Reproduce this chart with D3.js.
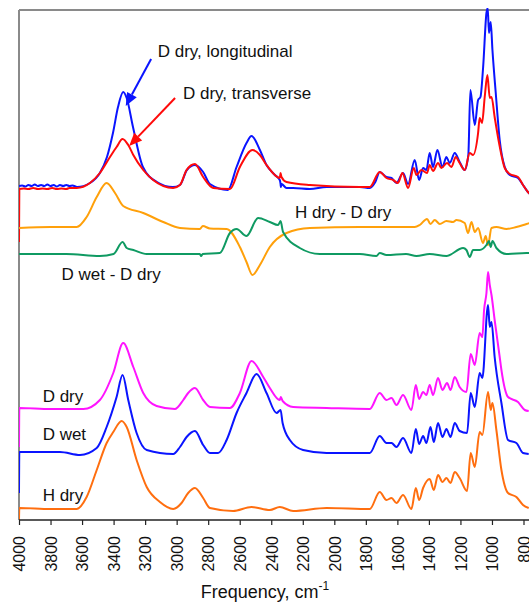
<!DOCTYPE html>
<html>
<head>
<meta charset="utf-8">
<script src="https://cdn.jsdelivr.net/npm/d3@7"></script>
<style>
  html, body { margin: 0; padding: 0; background: #fff; }
  svg { display: block; font-family: "Liberation Sans", Arial, Helvetica, sans-serif; }
</style>
</head>
<body>
<svg id="chart" width="529" height="604"></svg>
<script>
// IR spectra: [frequency (cm-1), absorbance incl. vertical offset]
const dDryLongitudinal = [
  [4000,3.34],[3980,3.345],[3960,3.335],[3940,3.35],[3920,3.34],[3900,3.355],[3880,3.34],[3860,3.35],[3840,3.34],
  [3820,3.355],[3800,3.34],[3780,3.35],[3760,3.335],[3740,3.35],[3720,3.34],[3700,3.35],[3680,3.34],[3660,3.345],
  [3632,3.33],[3550,3.37],[3487,3.47],[3442,3.63],[3404,3.87],[3372,4.13],
  [3339,4.28],[3317,4.22],[3277,3.93],[3214,3.53],[3125,3.38],[3024,3.33],[2979,3.35],[2935,3.50],[2884,3.55],
  [2832,3.48],[2789,3.36],[2675,3.30],[2620,3.53],[2557,3.77],[2525,3.84],[2472,3.70],[2430,3.55],[2377,3.45],
  [2346,3.40],[2341,3.36],[2339,3.33],[2335,3.36],[2303,3.32],[2261,3.32],[2155,3.31],[2049,3.33],[1838,3.33],
  [1775,3.32],[1740,3.38],[1712,3.48],[1669,3.43],[1637,3.42],[1606,3.37],[1564,3.47],[1532,3.36],[1490,3.60],
  [1462,3.40],[1437,3.52],[1416,3.50],[1395,3.67],[1374,3.53],[1346,3.70],[1314,3.53],[1289,3.63],[1268,3.57],
  [1236,3.67],[1205,3.58],[1173,3.50],[1150,3.65],[1137,4.30],[1109,3.95],[1088,4.20],[1073,4.23],[1056,4.53],
  [1035,5.07],[1027,5.12],[1019,4.87],[1008,4.98],[997,4.70],[976,4.27],[951,3.80],[919,3.53],[887,3.45],
  [835,3.42],[803,3.35],[772,3.28],[760,3.26]
];
const dDryTransverse = [
  [4000,2.78],[3998,3.31],[3970,3.315],[3940,3.31],[3910,3.32],[3880,3.31],[3850,3.315],[3820,3.31],[3790,3.32],
  [3760,3.31],[3730,3.315],[3700,3.31],[3680,3.32],[3634,3.32],[3550,3.37],[3487,3.47],[3423,3.63],[3381,3.73],[3343,3.81],[3307,3.75],
  [3275,3.65],[3212,3.50],[3149,3.40],[3022,3.32],[2979,3.35],[2937,3.50],[2884,3.56],[2832,3.43],[2768,3.32],
  [2662,3.31],[2599,3.53],[2519,3.70],[2472,3.65],[2430,3.55],[2377,3.45],[2346,3.42],[2341,3.47],[2335,3.43],
  [2303,3.38],[2155,3.35],[1838,3.33],[1775,3.33],[1712,3.48],[1669,3.42],[1627,3.40],[1596,3.37],[1568,3.47],
  [1532,3.32],[1496,3.52],[1479,3.45],[1448,3.50],[1412,3.47],[1395,3.55],[1374,3.49],[1342,3.57],[1321,3.52],
  [1285,3.57],[1257,3.53],[1230,3.63],[1205,3.57],[1173,3.50],[1141,3.67],[1120,3.65],[1088,3.87],[1078,4.02],
  [1063,3.97],[1046,4.23],[1029,4.45],[1014,4.22],[1003,4.23],[983,4.03],[955,3.77],[919,3.52],[887,3.46],
  [835,3.43],[803,3.35],[772,3.28],[760,3.26]
];
const hDryMinusDDry = [
  [4000,2.92],[3800,2.93],[3634,2.93],[3571,3.03],[3507,3.23],[3444,3.37],[3391,3.27],[3339,3.14],[3212,3.07],
  [3085,2.98],[2979,2.92],[2853,2.91],[2834,2.94],[2789,2.915],[2683,2.91],[2599,2.73],[2557,2.58],[2519,2.45],
  [2472,2.55],[2409,2.73],[2303,2.87],[2155,2.92],[1838,2.93],[1627,2.93],[1490,2.93],[1458,2.95],[1412,3.01],
  [1390,2.96],[1363,3.00],[1331,2.96],[1289,2.99],[1247,2.98],[1225,3.00],[1173,2.97],[1152,2.87],[1130,2.98],
  [1109,2.88],[1088,2.92],[1057,2.77],[1040,2.84],[1025,2.75],[1003,2.92],[972,2.93],[908,2.91],[845,2.93],
  [781,2.96],[760,2.97]
];
const dWetMinusDDry = [
  [4000,2.66],[3700,2.66],[3487,2.64],[3400,2.66],[3343,2.78],[3317,2.72],[3275,2.70],[3190,2.66],[2853,2.66],
  [2845,2.64],[2835,2.66],[2726,2.67],[2662,2.87],[2620,2.91],[2557,2.84],[2483,3.02],[2409,2.98],[2356,2.95],
  [2341,2.99],[2325,2.88],[2219,2.72],[2092,2.66],[1838,2.66],[1733,2.64],[1712,2.67],[1669,2.65],[1545,2.66],
  [1479,2.64],[1395,2.66],[1289,2.64],[1183,2.72],[1162,2.70],[1141,2.63],[1120,2.70],[1078,2.70],[1035,2.75],
  [1019,2.79],[1008,2.73],[997,2.79],[972,2.72],[908,2.66],[781,2.67],[760,2.67]
];
const dDry = [
  [4000,0.73],[3998,1.12],[3800,1.11],[3592,1.11],[3487,1.20],[3402,1.47],[3339,1.77],[3275,1.53],[3212,1.27],
  [3127,1.14],[3011,1.11],[2958,1.20],[2927,1.27],[2884,1.32],[2832,1.20],[2789,1.13],[2662,1.12],[2599,1.27],
  [2525,1.59],[2451,1.43],[2409,1.32],[2346,1.20],[2339,1.23],[2328,1.19],[2261,1.13],[2049,1.12],[1775,1.11],
  [1712,1.27],[1669,1.20],[1637,1.22],[1606,1.15],[1564,1.25],[1511,1.10],[1483,1.35],[1462,1.21],[1437,1.28],
  [1416,1.25],[1395,1.35],[1374,1.25],[1342,1.42],[1314,1.30],[1285,1.37],[1263,1.30],[1236,1.43],[1205,1.33],
  [1162,1.28],[1135,1.66],[1109,1.55],[1078,1.87],[1061,1.83],[1050,2.10],[1035,2.27],[1025,2.48],[1014,2.35],
  [1003,2.25],[983,2.00],[951,1.63],[940,1.50],[898,1.23],[835,1.18],[792,1.10],[767,1.09]
];
const dWet = [
  [4000,0.27],[3998,0.68],[3740,0.68],[3613,0.65],[3507,0.72],[3444,0.93],[3381,1.23],[3343,1.45],[3307,1.20],
  [3254,0.87],[3190,0.70],[3022,0.66],[2979,0.73],[2937,0.83],[2884,0.89],[2832,0.75],[2789,0.67],[2737,0.67],
  [2683,0.80],[2620,1.07],[2557,1.27],[2493,1.46],[2430,1.27],[2366,1.07],[2341,1.10],[2328,0.97],[2282,0.80],
  [2198,0.70],[2049,0.67],[1775,0.67],[1712,0.84],[1669,0.77],[1637,0.77],[1606,0.73],[1564,0.82],[1511,0.67],
  [1483,0.91],[1462,0.76],[1437,0.84],[1416,0.77],[1390,0.93],[1369,0.78],[1342,0.97],[1314,0.83],[1289,0.91],
  [1263,0.83],[1236,0.97],[1205,0.89],[1158,0.87],[1135,1.27],[1109,1.13],[1078,1.47],[1061,1.42],[1025,2.15],
  [1014,1.93],[1003,1.98],[983,1.63],[940,1.17],[898,0.80],[845,0.77],[803,0.67],[767,0.66]
];
const hDry = [
  [4000,0.00],[3998,0.12],[3800,0.11],[3634,0.11],[3571,0.23],[3507,0.50],[3444,0.77],[3402,0.88],[3349,0.99],
  [3317,0.93],[3254,0.60],[3190,0.33],[3106,0.18],[3022,0.11],[2969,0.17],[2927,0.27],[2884,0.32],[2832,0.22],
  [2789,0.12],[2642,0.09],[2525,0.13],[2409,0.10],[2346,0.13],[2261,0.09],[2049,0.12],[1775,0.11],[1712,0.28],
  [1669,0.20],[1637,0.22],[1606,0.17],[1564,0.25],[1511,0.11],[1483,0.32],[1462,0.20],[1437,0.32],[1395,0.41],
  [1369,0.30],[1342,0.45],[1314,0.38],[1289,0.42],[1263,0.37],[1236,0.48],[1205,0.42],[1158,0.29],[1135,0.67],
  [1109,0.53],[1078,0.88],[1061,0.85],[1025,1.28],[1008,1.10],[997,1.17],[972,0.90],[940,0.50],[898,0.27],
  [845,0.23],[803,0.15],[767,0.12]
];

const xTicks = [4000,3800,3600,3400,3200,3000,2800,2600,2400,2200,2000,1800,1600,1400,1200,1000,800];

const series = [
  { data: dDryLongitudinal, color: "#0a14ff" },
  { data: dDryTransverse,   color: "#ff0a0a" },
  { data: hDryMinusDDry,    color: "#ffa00a" },
  { data: dWetMinusDDry,    color: "#0f9a62" },
  { data: dDry,             color: "#ff14ff" },
  { data: dWet,             color: "#0a14ff" },
  { data: hDry,             color: "#ff6e0f" }
];

const labels = [
  { text: "D dry, longitudinal", f: 3120, v: 4.63 },
  { text: "D dry, transverse",   f: 2960, v: 4.21 },
  { text: "H dry - D dry",       f: 2250, v: 3.02 },
  { text: "D wet - D dry",       f: 3730, v: 2.40 },
  { text: "D dry",               f: 3850, v: 1.18 },
  { text: "D wet",               f: 3850, v: 0.80 },
  { text: "H dry",               f: 3850, v: 0.19 }
];

// arrows: [tail frequency, tail value] -> [head frequency, head value]
const arrows = [
  { from: [3162, 4.61], to: [3323, 4.14], color: "#0a14ff" },
  { from: [3010, 4.22], to: [3301, 3.74], color: "#ff0a0a" }
];

const svg = d3.select("#chart");
const plotLeft = 19, plotRight = 523.5, plotTop = 10, plotBottom = 520, svgWidth = 529;

const x = d3.scaleLinear().domain([4000, 800]).range([plotLeft, plotRight]);
const y = d3.scaleLinear().domain([0, 5.1]).range([plotBottom, plotTop]);

svg.append("defs").append("clipPath").attr("id", "plotclip")
  .append("rect").attr("x", plotLeft).attr("y", plotTop - 2)
  .attr("width", svgWidth - plotLeft).attr("height", plotBottom - plotTop + 2);

// frame
svg.append("line").attr("x1", plotLeft).attr("x2", svgWidth).attr("y1", plotTop).attr("y2", plotTop)
  .attr("stroke", "#8a8a8a").attr("stroke-width", 2);
svg.append("line").attr("x1", plotLeft).attr("x2", plotLeft).attr("y1", plotTop).attr("y2", plotBottom)
  .attr("stroke", "#8a8a8a").attr("stroke-width", 2);

const line = d3.line()
  .x(d => x(d[0]))
  .y(d => y(d[1]))
  .curve(d3.curveMonotoneX);

const traces = svg.append("g").attr("clip-path", "url(#plotclip)");
traces.selectAll("path").data(series).join("path")
  .attr("d", s => line(s.data))
  .attr("fill", "none")
  .attr("stroke", s => s.color)
  .attr("stroke-width", 2)
  .attr("stroke-linejoin", "round");

// x axis
const axis = d3.axisBottom(x).tickValues(xTicks).tickSize(5).tickFormat(d3.format("d"));
const gx = svg.append("g").attr("transform", `translate(0,${plotBottom})`).call(axis);
gx.select(".domain").attr("stroke", "#222").attr("stroke-width", 1.5).attr("d", `M${plotLeft},0H${svgWidth}`);
gx.selectAll(".tick line").attr("stroke", "#222").attr("stroke-width", 1.2);
gx.selectAll(".tick text")
  .attr("font-size", 16)
  .attr("fill", "#111")
  .attr("font-family", "'Liberation Sans', Arial, sans-serif")
  .attr("text-anchor", "end")
  .attr("transform", "rotate(-90)")
  .attr("x", -16)
  .attr("y", 0)
  .attr("dy", "0.36em");

const title = svg.append("text")
  .attr("x", 265).attr("y", 598)
  .attr("text-anchor", "middle")
  .attr("font-size", 18)
  .attr("fill", "#111");
title.append("tspan").text("Frequency, cm");
title.append("tspan").attr("font-size", 12).attr("dy", -8).text("-1");

// series labels
svg.selectAll("text.lbl").data(labels).join("text")
  .attr("class", "lbl")
  .attr("x", d => x(d.f))
  .attr("y", d => y(d.v))
  .attr("font-size", 17)
  .attr("fill", "#111")
  .text(d => d.text);

// arrows
arrows.forEach(a => {
  const x1 = x(a.from[0]), y1 = y(a.from[1]);
  const x2 = x(a.to[0]), y2 = y(a.to[1]);
  const ang = Math.atan2(y2 - y1, x2 - x1);
  const len = 13, half = 5.5;
  const bx = x2 - len * Math.cos(ang), by = y2 - len * Math.sin(ang);
  svg.append("line")
    .attr("x1", x1).attr("y1", y1).attr("x2", bx).attr("y2", by)
    .attr("stroke", a.color).attr("stroke-width", 2);
  const px = -Math.sin(ang) * half, py = Math.cos(ang) * half;
  svg.append("path")
    .attr("d", `M${x2},${y2}L${bx + px},${by + py}L${bx - px},${by - py}Z`)
    .attr("fill", a.color);
});
</script>
</body>
</html>
